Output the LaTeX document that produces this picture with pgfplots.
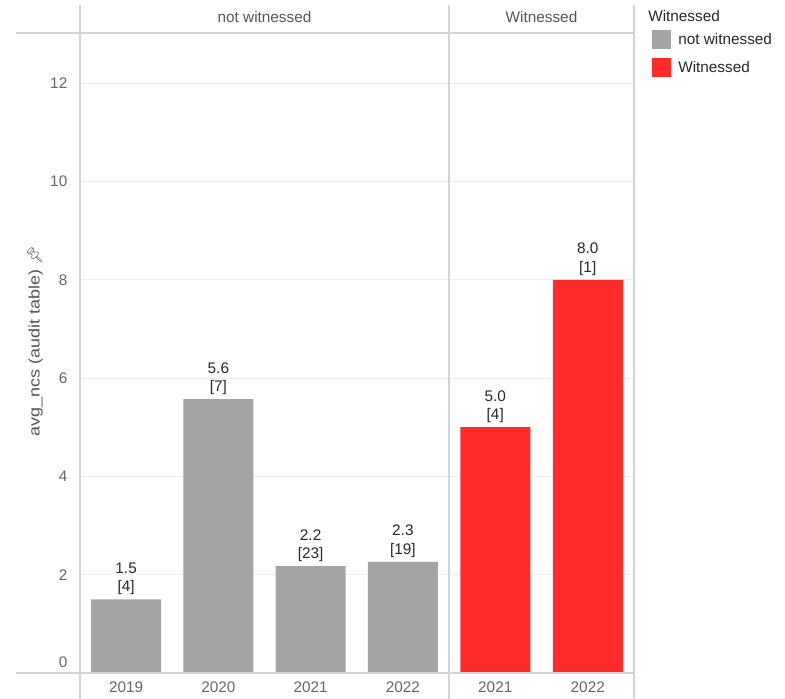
\documentclass[border=0pt]{standalone}
\usepackage{pgfplots}
\pgfplotsset{compat=1.18}
\usepackage{pgfplotstable}
\usepackage{fontspec}
\setmainfont{Liberation Sans}
\newfontfamily\emojifont{Noto Emoji}
\definecolor{barGray}{RGB}{165,165,165}
\definecolor{barRed}{RGB}{255,42,42}
\definecolor{frameGray}{RGB}{212,212,212}
\definecolor{gridGray}{RGB}{238,238,238}
\definecolor{tickGray}{RGB}{102,102,102}
\definecolor{hdrGray}{RGB}{85,85,85}
\definecolor{lblDark}{RGB}{40,40,40}

\pgfplotstableread{
x  y      n
0  1.500  4
1  5.571  7
2  2.174  23
3  2.263  19
}\notwit
\pgfplotstableread{
x  y      n
0  5.000  4
1  8.000  1
}\wit

\newcommand{\fs}{\fontsize{11.5}{13.8}\selectfont}

\pgfplotsset{
  panel/.style={
    scale only axis,
    height=480pt,
    ymin=0, ymax=13.02,
    axis line style={draw=none},
    major tick length=0pt,
    ytick={0,2,4,6,8,10,12},
    ymajorgrids,
    grid style={gridGray, line width=0.75pt},
    xtick=data,
    xmin=-0.5,
    ybar, bar width=52.5pt, bar shift=0pt,
    /pgf/number format/assume math mode=true,
    tick label style={font=\fs, text=tickGray},
    xticklabel style={yshift=-3pt},
    nodes near coords={\pgfmathprintnumber[fixed,precision=1,fixed zerofill]{\pgfplotspointmeta}\\{[}\pgfmathprintnumber[fixed,precision=0]{\cnt}{]}},
    visualization depends on={\thisrow{n} \as \cnt},
    every node near coord/.append style={font=\fs, text=lblDark, align=center, anchor=south, inner sep=2pt, yshift=1pt},
    point meta=y,
    clip=false,
  }
}

\begin{document}
\begin{tikzpicture}[font=\fs]
% canvas
\path[use as bounding box] (0,0) rectangle (588.75pt,-524.25pt);

\begin{axis}[panel,
  at={(60pt,-504.75pt)}, anchor=south west,
  width=276.75pt,
  xmax=3.5,
  xticklabels={2019,2020,2021,2022},
  yticklabels={\raisebox{4.5pt}[0pt][0pt]{0},2,4,6,8,10,12},
  yticklabel style={xshift=-6pt},
]
\addplot[fill=barGray, draw=none] table[x=x,y=y] {\notwit};
\end{axis}

\begin{axis}[panel,
  at={(336.75pt,-504.75pt)}, anchor=south west,
  width=138.75pt,
  xmax=1.5,
  xticklabels={2021,2022},
  yticklabels={},
]
\addplot[fill=barRed, draw=none] table[x=x,y=y] {\wit};
\end{axis}

\begin{scope}[x=0.75pt,y=-0.75pt]
  % frame lines
  \draw[frameGray, line width=0.8pt] (80,5) -- (80,699);
  \draw[frameGray, line width=0.8pt] (449,5) -- (449,699);
  \draw[frameGray, line width=0.8pt] (634,5) -- (634,699);
  \draw[frameGray, line width=0.8pt] (16,33) -- (634,33);
  \draw[frameGray, line width=0.8pt] (16,673) -- (634,673);
  % headers
  \node[text=hdrGray] at (264.5,17) {not witnessed};
  \node[text=hdrGray] at (541.5,17) {Witnessed};
  % y label
  \node[rotate=90, text=hdrGray] at (35,341) {\scalebox{1.17}[1]{avg\_ncs (audit table)}\hspace{4pt}{\emojifont\fontsize{11}{12}\selectfont 📌}};
  % legend
  \node[anchor=west, text=lblDark, inner sep=0pt] at (648,16) {Witnessed};
  \fill[barGray] (652,30) rectangle (671,49);
  \node[anchor=west, text=lblDark, inner sep=0pt] at (678,39) {not witnessed};
  \fill[barRed] (652,58) rectangle (671,77);
  \node[anchor=west, text=lblDark, inner sep=0pt] at (678,67) {Witnessed};
\end{scope}
\end{tikzpicture}
\end{document}
